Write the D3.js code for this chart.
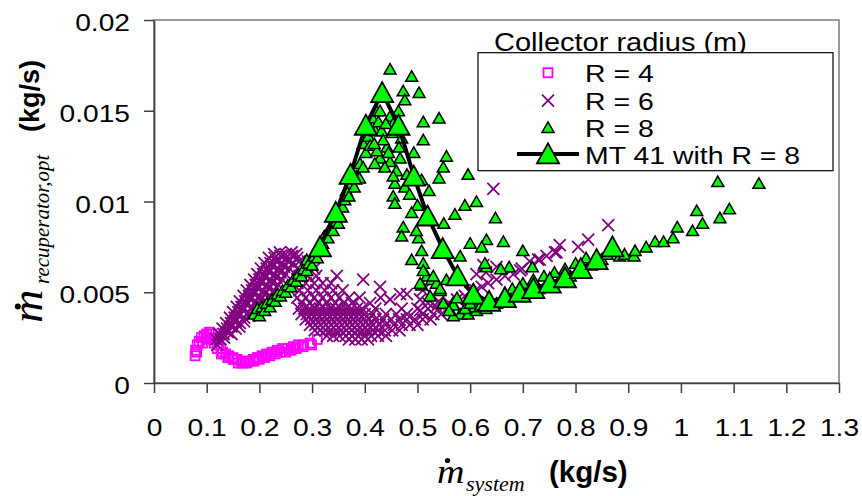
<!DOCTYPE html>
<html>
<head>
<meta charset="utf-8">
<script src="https://cdn.jsdelivr.net/npm/d3@7"></script>
<style>
  html, body { margin: 0; padding: 0; background: #fff; }
  svg { display: block; }
</style>
</head>
<body>
<svg id="chart" width="862" height="496"></svg>
<script>
// Axis ticks
const xTicks = [0, 0.1, 0.2, 0.3, 0.4, 0.5, 0.6, 0.7, 0.8, 0.9, 1, 1.1, 1.2, 1.3];
const xTickLabels = ["0", "0.1", "0.2", "0.3", "0.4", "0.5", "0.6", "0.7", "0.8", "0.9", "1", "1.1", "1.2", "1.3"];
const yTicks = [0, 0.005, 0.01, 0.015, 0.02];
const yTickLabels = ["0", "0.005", "0.01", "0.015", "0.02"];

const legendTitle = "Collector radius (m)";
const seriesNames = ["R = 4", "R = 6", "R = 8", "MT 41 with R = 8"];

// R = 4 : [system mass flow, optimal recuperator mass flow] (kg/s)
const r4 = [
  [0.078,0.0015],[0.079,0.0018],[0.082,0.0021],[0.086,0.0023],[0.090,0.0025],[0.095,0.0026],[0.100,0.0027],
  [0.105,0.0028],[0.110,0.0027],[0.115,0.0025],[0.120,0.0024],[0.123,0.0021],[0.127,0.0019],[0.130,0.0017],
  [0.136,0.0016],[0.142,0.0015],[0.150,0.0014],[0.158,0.0013],[0.165,0.0012],[0.172,0.0012],[0.180,0.0012],
  [0.188,0.0013],[0.196,0.0014],[0.205,0.0015],[0.214,0.0016],[0.224,0.0017],[0.234,0.0018],[0.244,0.0019],
  [0.254,0.0019],[0.264,0.0020],[0.274,0.0021],[0.284,0.0021],[0.296,0.0022],[0.310,0.0024],
  [0.081,0.0017],[0.092,0.0022],[0.100,0.0024],[0.108,0.0025],[0.114,0.0022],[0.120,0.0019],[0.128,0.0016],
  [0.140,0.0014],[0.150,0.0013],[0.160,0.0011],[0.168,0.0011],[0.176,0.0011],[0.190,0.0012],[0.200,0.0013],
  [0.210,0.0014],[0.220,0.0015],[0.230,0.0016],[0.240,0.0017],[0.250,0.0017],[0.260,0.0018],[0.270,0.0019],
  [0.283,0.0020],[0.299,0.0021]
];

// R = 6
const r6 = [
  // rising arm
  [0.120,0.0021],
  [0.118,0.0024],[0.126,0.0024],[0.133,0.0025],
  [0.124,0.0027],[0.132,0.0027],[0.140,0.0028],[0.147,0.0027],
  [0.130,0.0030],[0.139,0.0030],[0.147,0.0031],[0.155,0.0030],[0.162,0.0031],
  [0.137,0.0033],[0.146,0.0033],[0.155,0.0034],[0.163,0.0033],[0.171,0.0034],
  [0.144,0.0036],[0.153,0.0036],[0.162,0.0037],[0.171,0.0036],[0.180,0.0037],
  [0.150,0.0039],[0.160,0.0039],[0.169,0.0040],[0.179,0.0039],[0.188,0.0040],[0.196,0.0039],
  [0.157,0.0042],[0.166,0.0042],[0.176,0.0043],[0.186,0.0042],[0.195,0.0043],[0.205,0.0042],
  [0.163,0.0045],[0.173,0.0045],[0.183,0.0046],[0.193,0.0045],[0.203,0.0046],[0.213,0.0045],
  [0.170,0.0048],[0.180,0.0048],[0.190,0.0049],[0.200,0.0048],[0.210,0.0049],[0.221,0.0048],
  [0.176,0.0051],[0.186,0.0051],[0.197,0.0052],[0.207,0.0051],[0.218,0.0052],[0.228,0.0051],
  [0.183,0.0054],[0.193,0.0054],[0.204,0.0055],[0.214,0.0054],[0.225,0.0055],[0.236,0.0054],
  [0.190,0.0057],[0.200,0.0057],[0.211,0.0058],[0.221,0.0057],[0.232,0.0058],[0.243,0.0057],
  [0.196,0.0060],[0.207,0.0060],[0.218,0.0061],[0.229,0.0060],[0.240,0.0061],[0.250,0.0060],
  [0.203,0.0063],[0.214,0.0063],[0.225,0.0064],[0.236,0.0063],[0.247,0.0064],[0.257,0.0063],
  [0.210,0.0066],[0.221,0.0066],[0.232,0.0067],[0.243,0.0066],[0.254,0.0067],[0.264,0.0066],
  [0.218,0.0069],[0.229,0.0069],[0.240,0.0070],[0.251,0.0069],[0.262,0.0070],[0.272,0.0069],
  [0.228,0.0071],[0.239,0.0072],[0.250,0.0071],[0.261,0.0072],[0.270,0.0071],
  // falling arm (open lattice)
  [0.276,0.0067],[0.292,0.0067],
  [0.272,0.0063],[0.288,0.0063],[0.304,0.0063],
  [0.276,0.0059],[0.292,0.0059],[0.308,0.0059],[0.347,0.0059],
  [0.272,0.0055],[0.288,0.0055],[0.304,0.0055],[0.320,0.0055],[0.336,0.0055],[0.397,0.0057],
  [0.276,0.0051],[0.292,0.0051],[0.308,0.0051],[0.324,0.0051],[0.340,0.0051],[0.358,0.0051],[0.429,0.0053],[0.510,0.0051],
  [0.272,0.0047],[0.288,0.0047],[0.304,0.0047],[0.320,0.0047],[0.336,0.0047],[0.352,0.0047],[0.370,0.0047],[0.390,0.0047],[0.430,0.0047],[0.467,0.0049],[0.480,0.0049],
  [0.280,0.0044],[0.296,0.0044],[0.312,0.0044],[0.328,0.0044],[0.344,0.0044],[0.360,0.0044],[0.376,0.0044],[0.410,0.0044],[0.448,0.0046],[0.505,0.0046],
  // trough
  [0.275,0.0041],[0.285,0.0041],[0.295,0.0041],[0.305,0.0041],[0.315,0.0041],[0.325,0.0041],[0.335,0.0041],[0.345,0.0041],[0.355,0.0041],[0.365,0.0041],[0.375,0.0041],[0.385,0.0041],[0.395,0.0041],[0.420,0.0041],[0.470,0.0041],[0.500,0.0041],
  [0.280,0.0038],[0.290,0.0038],[0.300,0.0038],[0.310,0.0038],[0.320,0.0038],[0.330,0.0038],[0.340,0.0038],[0.350,0.0038],[0.360,0.0038],[0.370,0.0038],[0.380,0.0038],[0.390,0.0038],[0.400,0.0038],[0.415,0.0038],[0.440,0.0038],[0.460,0.0038],[0.480,0.0038],[0.510,0.0038],[0.530,0.0038],[0.545,0.0038],
  [0.288,0.0035],[0.298,0.0035],[0.308,0.0035],[0.318,0.0035],[0.328,0.0035],[0.338,0.0035],[0.348,0.0035],[0.358,0.0035],[0.368,0.0035],[0.378,0.0035],[0.388,0.0035],[0.398,0.0035],[0.408,0.0035],[0.420,0.0035],[0.435,0.0035],[0.450,0.0035],[0.465,0.0035],[0.480,0.0035],[0.495,0.0035],[0.510,0.0035],[0.525,0.0035],
  [0.296,0.0032],[0.306,0.0032],[0.316,0.0032],[0.326,0.0032],[0.336,0.0032],[0.346,0.0032],[0.356,0.0032],[0.366,0.0032],[0.376,0.0032],[0.386,0.0032],[0.396,0.0032],[0.406,0.0032],[0.416,0.0032],[0.428,0.0032],[0.440,0.0032],[0.455,0.0032],[0.470,0.0032],[0.485,0.0032],[0.500,0.0032],
  [0.305,0.0029],[0.315,0.0029],[0.325,0.0029],[0.335,0.0029],[0.345,0.0029],[0.355,0.0029],[0.365,0.0029],[0.375,0.0029],[0.385,0.0029],[0.395,0.0029],[0.405,0.0029],[0.415,0.0029],[0.425,0.0029],[0.438,0.0029],[0.452,0.0029],[0.466,0.0029],
  [0.328,0.0026],[0.340,0.0026],[0.352,0.0026],[0.364,0.0026],[0.376,0.0026],[0.388,0.0026],[0.400,0.0026],[0.412,0.0026],[0.425,0.0026],[0.440,0.0026],
  [0.370,0.0024],[0.382,0.0024],[0.394,0.0024],[0.406,0.0024],
  // right arm
  [0.505,0.0040],[0.520,0.0041],[0.535,0.0042],[0.550,0.0042],[0.520,0.0044],[0.540,0.0045],[0.530,0.0048],
  [0.560,0.0044],[0.575,0.0046],[0.590,0.0048],[0.600,0.0050],[0.610,0.0051],[0.622,0.0053],[0.634,0.0055],
  [0.650,0.0057],[0.666,0.0059],[0.682,0.0060],[0.698,0.0063],[0.713,0.0067],[0.729,0.0068],[0.745,0.0070],
  [0.761,0.0072],[0.770,0.0076],[0.805,0.0075],[0.824,0.0079],[0.862,0.0087],[0.644,0.0107],
  [0.612,0.0060],[0.625,0.0065],[0.630,0.0061],[0.650,0.0064],[0.695,0.0062],[0.732,0.0068],[0.764,0.0072]
];

// R = 8
const r8 = [
  // rising arm
  [0.190,0.0038],[0.196,0.0041],[0.200,0.0037],[0.205,0.0042],[0.210,0.0040],[0.214,0.0044],[0.220,0.0042],
  [0.224,0.0046],[0.230,0.0045],[0.234,0.0049],[0.240,0.0048],[0.244,0.0051],[0.250,0.0050],[0.254,0.0054],
  [0.260,0.0053],[0.264,0.0057],[0.270,0.0056],[0.274,0.0060],[0.280,0.0059],[0.284,0.0063],[0.290,0.0062],
  [0.290,0.0068],[0.294,0.0066],[0.300,0.0065],[0.304,0.0070],[0.310,0.0069],[0.314,0.0073],[0.320,0.0077],
  [0.323,0.0081],[0.330,0.0080],[0.333,0.0085],[0.340,0.0084],[0.342,0.0089],[0.350,0.0088],[0.352,0.0093],
  [0.358,0.0097],[0.362,0.0101],[0.365,0.0106],[0.370,0.0103],[0.375,0.0110],[0.380,0.0108],[0.384,0.0114],
  [0.390,0.0113],[0.391,0.0121],[0.397,0.0119],[0.397,0.0132],[0.402,0.0127],[0.407,0.0136],[0.407,0.0141],
  [0.410,0.0131],[0.415,0.0146],[0.420,0.0139],[0.423,0.0150],[0.426,0.0144],
  // crest
  [0.448,0.0173],[0.489,0.0169],[0.473,0.0161],[0.503,0.0160],[0.476,0.0156],[0.429,0.0150],[0.448,0.0147],
  [0.464,0.0150],[0.432,0.0139],[0.442,0.0130],[0.429,0.0124],[0.448,0.0122],[0.467,0.0124],[0.460,0.0117],
  [0.457,0.0110],[0.476,0.0108],[0.454,0.0103],[0.457,0.0099],[0.423,0.0128],[0.435,0.0134],[0.419,0.0121],
  [0.438,0.0119],[0.452,0.0138],[0.456,0.0144],[0.440,0.0143],[0.418,0.0132],[0.454,0.0114],[0.445,0.0127],
  [0.470,0.0135],[0.465,0.0130],
  // falling arm
  [0.511,0.0144],[0.541,0.0146],[0.511,0.0134],[0.493,0.0127],[0.555,0.0125],[0.549,0.0119],[0.596,0.0115],
  [0.541,0.0113],[0.522,0.0106],[0.508,0.0112],[0.480,0.0115],[0.485,0.0104],[0.500,0.0098],[0.612,0.0100],
  [0.590,0.0098],[0.571,0.0093],[0.550,0.0088],[0.489,0.0094],[0.473,0.0086],[0.470,0.0081],[0.502,0.0080],
  [0.498,0.0084],[0.600,0.0077],[0.631,0.0079],[0.622,0.0075],[0.581,0.0070],[0.489,0.0068],[0.508,0.0073],
  [0.511,0.0066],[0.518,0.0059],[0.527,0.0057],[0.536,0.0055],[0.555,0.0057],[0.508,0.0054],[0.543,0.0051],
  [0.567,0.0044],[0.648,0.0091],[0.663,0.0078],[0.700,0.0073],[0.718,0.0064],[0.674,0.0064],[0.658,0.0063],
  [0.631,0.0064],[0.628,0.0066],
  // trough
  [0.530,0.0059],[0.543,0.0052],[0.549,0.0044],[0.568,0.0043],[0.581,0.0038],[0.596,0.0038],[0.612,0.0040],
  [0.511,0.0062],[0.505,0.0055],[0.524,0.0048],[0.568,0.0037],[0.609,0.0042],[0.560,0.0040],[0.590,0.0041],
  [0.575,0.0047],[0.600,0.0044],[0.620,0.0043],[0.630,0.0041],[0.645,0.0043],[0.660,0.0045],
  // lower right band
  [0.650,0.0044],[0.670,0.0046],[0.690,0.0049],[0.710,0.0050],[0.730,0.0052],[0.750,0.0054],[0.770,0.0057],
  [0.790,0.0059],[0.810,0.0062],[0.830,0.0065],[0.850,0.0068],[0.860,0.0071],[0.680,0.0052],[0.700,0.0055],
  [0.720,0.0057],[0.740,0.0059],[0.760,0.0061],[0.780,0.0063],[0.800,0.0066],[0.820,0.0069],
  // right tail
  [0.884,0.0070],[0.893,0.0071],[0.911,0.0070],[0.913,0.0073],[0.934,0.0075],[0.951,0.0078],[0.967,0.0078],
  [0.985,0.0080],[0.993,0.0086],[1.022,0.0084],[1.041,0.0088],[1.030,0.0095],[1.074,0.0091],[1.092,0.0096],
  [1.070,0.0111],[1.148,0.0110]
];

// MT 41 with R = 8
const mt41 = [
  [0.315,0.0075],[0.345,0.0094],[0.373,0.0115],[0.402,0.0142],[0.433,0.0160],[0.464,0.0142],[0.493,0.0114],
  [0.519,0.0092],[0.548,0.0074],[0.576,0.0059],[0.606,0.0049],[0.636,0.0045],[0.666,0.0047],[0.694,0.0050],
  [0.720,0.0052],[0.751,0.0055],[0.780,0.0058],[0.810,0.0063],[0.840,0.0068],[0.870,0.0075]
];

const SANS = "'Liberation Sans', Arial, sans-serif";
const SERIF = "'Liberation Serif', 'Times New Roman', serif";
const COL_R4 = "#ff00ff", COL_R6 = "#800080", COL_R8 = "#00ff00";

const svg = d3.select("#chart");
const plot = { left: 154, top: 20, right: 839, bottom: 383 };

const x = d3.scaleLinear().domain([0, 1.3]).range([plot.left, plot.right]);
const y = d3.scaleLinear().domain([0, 0.02]).range([plot.bottom, plot.top]);

// Horizontal stretch applied to the plain labels
function stretch(sel, px, py, sx, rot) {
  sel.attr("transform", `translate(${px},${py})` + (rot ? ` rotate(${rot})` : "") + ` scale(${sx},1)`);
}

// Marker shapes
const triPath = (hw, up, down) => `M0,${-up}L${hw},${down}L${-hw},${down}Z`;
const smallTri = triPath(6, 5.5, 5);
const bigTri = triPath(11, 10.5, 9.5);
const crossPath = "M-6,-6L6,6M-6,6L6,-6";

// Plot frame
svg.append("rect")
  .attr("x", plot.left).attr("y", plot.top)
  .attr("width", plot.right - plot.left).attr("height", plot.bottom - plot.top)
  .attr("fill", "#fff").attr("stroke", "#999").attr("stroke-width", 2);

// Data layers
svg.append("clipPath").attr("id", "plotClip")
  .append("rect")
  .attr("x", plot.left).attr("y", plot.top)
  .attr("width", plot.right - plot.left).attr("height", plot.bottom - plot.top);
const layer = svg.append("g").attr("clip-path", "url(#plotClip)");

layer.append("g").selectAll("rect").data(r4).join("rect")
  .attr("x", d => x(d[0]) - 4.5).attr("y", d => y(d[1]) - 4.5)
  .attr("width", 9).attr("height", 9)
  .attr("fill", "none").attr("stroke", COL_R4).attr("stroke-width", 1.8);

layer.append("g").selectAll("path").data(r6).join("path")
  .attr("d", crossPath)
  .attr("transform", d => `translate(${x(d[0])},${y(d[1])})`)
  .attr("fill", "none").attr("stroke", COL_R6).attr("stroke-width", 1.8);

layer.append("g").selectAll("path").data(r8).join("path")
  .attr("d", smallTri)
  .attr("transform", d => `translate(${x(d[0])},${y(d[1])})`)
  .attr("fill", COL_R8).attr("stroke", "#000").attr("stroke-width", 1.5).attr("stroke-linejoin", "miter");

layer.append("path").datum(mt41)
  .attr("d", d3.line().x(d => x(d[0])).y(d => y(d[1])))
  .attr("fill", "none").attr("stroke", "#000").attr("stroke-width", 4).attr("stroke-linejoin", "round");

layer.append("g").selectAll("path").data(mt41).join("path")
  .attr("d", bigTri)
  .attr("transform", d => `translate(${x(d[0])},${y(d[1])})`)
  .attr("fill", COL_R8).attr("stroke", "#000").attr("stroke-width", 1.8);

// Axes
const axisColor = "#404040";
const gx = svg.append("g").attr("transform", `translate(0,${plot.bottom})`)
  .call(d3.axisBottom(x).tickValues(xTicks).tickSize(10).tickSizeOuter(0)
    .tickFormat((d, i) => xTickLabels[i]));
const gy = svg.append("g").attr("transform", `translate(${plot.left},0)`)
  .call(d3.axisLeft(y).tickValues(yTicks).tickSize(10).tickSizeOuter(0)
    .tickFormat((d, i) => yTickLabels[i]));

[gx, gy].forEach(g => {
  g.select(".domain").attr("stroke", axisColor).attr("stroke-width", 1.7);
  g.selectAll(".tick line").attr("stroke", axisColor).attr("stroke-width", 1.5);
  g.selectAll(".tick text")
    .attr("font-family", SANS).attr("font-size", 24.5).attr("fill", "#000")
    .attr("x", 0).attr("y", 0).attr("dy", null);
});
gx.selectAll(".tick text").attr("text-anchor", "middle")
  .each(function () { stretch(d3.select(this), 0, 52.7, 1.15); });
gy.selectAll(".tick text").attr("text-anchor", "end")
  .each(function () { stretch(d3.select(this), -24, 10.5, 1.15); });

// X axis title
const xt = svg.append("g");
xt.append("text").text("m")
  .attr("font-family", SERIF).attr("font-style", "italic").attr("font-size", 34)
  .call(s => stretch(s, 437, 483, 1.12));
xt.append("circle").attr("cx", 447.5).attr("cy", 460.5).attr("r", 2.6).attr("fill", "#000");
xt.append("text").text("system")
  .attr("font-family", SERIF).attr("font-style", "italic").attr("font-size", 22)
  .attr("transform", "translate(466,491)");
xt.append("text").text("(kg/s)")
  .attr("font-family", SANS).attr("font-weight", "bold").attr("font-size", 29.5)
  .attr("transform", "translate(549,481.5)");

// Y axis title
const yt = svg.append("g");
yt.append("text").text("m")
  .attr("font-family", SERIF).attr("font-style", "italic").attr("font-size", 44)
  .call(s => stretch(s, 42, 323, 1.05, -90));
yt.append("circle").attr("cx", 17.8).attr("cy", 306.5).attr("r", 3).attr("fill", "#000");
yt.append("text").text("recuperator,opt")
  .attr("font-family", SERIF).attr("font-style", "italic").attr("font-size", 21)
  .attr("transform", "translate(49,284) rotate(-90)");
yt.append("text").text("(kg/s)")
  .attr("font-family", SANS).attr("font-weight", "bold").attr("font-size", 27)
  .attr("text-anchor", "middle")
  .attr("transform", "translate(38.5,96) rotate(-90)");

// Legend
const lg = svg.append("g");
lg.append("text").text(legendTitle)
  .attr("font-family", SANS).attr("font-size", 25).attr("fill", "#000")
  .call(s => stretch(s, 494, 50.5, 1.16));
lg.append("rect")
  .attr("x", 478).attr("y", 52.7).attr("width", 355).attr("height", 118)
  .attr("fill", "#fff").attr("stroke", "#000").attr("stroke-width", 1.2);

const rowBase = [82.3, 110.3, 137, 163.5];
const mx = 548;
seriesNames.forEach((name, i) => {
  const cy = rowBase[i] - 9.6;
  if (i === 0) {
    lg.append("rect").attr("x", mx - 4.5).attr("y", cy - 4.5).attr("width", 9).attr("height", 9)
      .attr("fill", "none").attr("stroke", COL_R4).attr("stroke-width", 1.8);
  } else if (i === 1) {
    lg.append("path").attr("d", crossPath).attr("transform", `translate(${mx},${cy})`)
      .attr("fill", "none").attr("stroke", COL_R6).attr("stroke-width", 1.8);
  } else if (i === 2) {
    lg.append("path").attr("d", smallTri).attr("transform", `translate(${mx},${cy})`)
      .attr("fill", COL_R8).attr("stroke", "#000").attr("stroke-width", 1.5);
  } else {
    lg.append("line").attr("x1", 517).attr("x2", 579).attr("y1", cy).attr("y2", cy)
      .attr("stroke", "#000").attr("stroke-width", 4);
    lg.append("path").attr("d", bigTri).attr("transform", `translate(${mx},${cy})`)
      .attr("fill", COL_R8).attr("stroke", "#000").attr("stroke-width", 1.8);
  }
  lg.append("text").text(name)
    .attr("font-family", SANS).attr("font-size", 23.5).attr("fill", "#000")
    .call(s => stretch(s, 585, rowBase[i], 1.21));
});
</script>
</body>
</html>
